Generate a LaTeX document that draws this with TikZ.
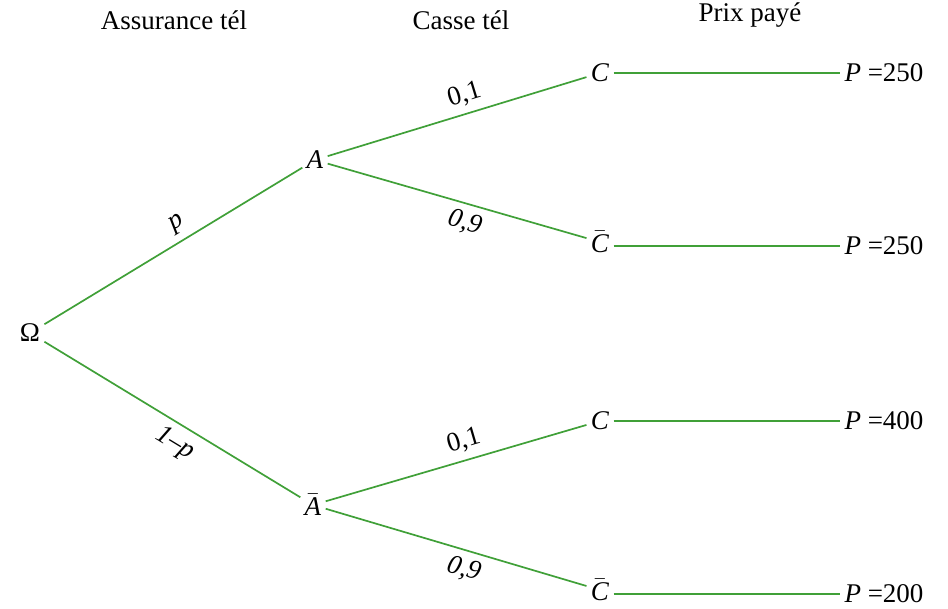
\documentclass[tikz,border=0pt]{standalone}
\usepackage{amsmath}
\usepackage{fontspec}
\setmainfont{Liberation Serif}
\definecolor{vert}{RGB}{64,160,56}

\begin{document}
\begin{tikzpicture}[x=0.5pt,y=0.5pt,
  every node/.style={font=\fontsize{13.5}{16}\selectfont,inner sep=2pt},
  branche/.style={draw=vert,line width=0.85pt},
  proba/.style={pos=0.55,sloped,inner sep=3.5pt}]
  \useasboundingbox (0,0) rectangle (948,609);
  \node (h1) at (174,589) {Assurance tél};
  \node (h2) at (461,589) {Casse tél};
  \node (h3) at (750,594) {Prix payé};

  \node (om) at (30,276) {Ω};
  \node (a) at (315,449) {\textit{A}};
  \node (ab) at (313,104) {$\bar{\text{\textit{A}}}$};
  \node (c1) at (600,536) {\textit{C}};
  \node (c2) at (600,367) {$\bar{\text{\textit{C}}}$};
  \node (c3) at (600,188) {\textit{C}};
  \node (c4) at (600,19) {$\bar{\text{\textit{C}}}$};
  \node (p1) at (884,536) {\textit{P} =250};
  \node (p2) at (884,363) {\textit{P} =250};
  \node (p3) at (884,188) {\textit{P} =400};
  \node (p4) at (884,15) {\textit{P} =200};

  \draw[branche] (om) -- node[proba,above]{\textit{p}} (a);
  \draw[branche] (om) -- node[proba,below]{\textit{1--p}} (ab);
  \draw[branche] (a) -- node[proba,above]{0,1} (c1);
  \draw[branche] (a) -- node[proba,below]{\textit{0,9}} (c2);
  \draw[branche] (ab) -- node[proba,above]{0,1} (c3);
  \draw[branche] (ab) -- node[proba,below]{\textit{0,9}} (c4);
  \draw[branche] (c1) -- (p1);
  \draw[branche] (c2.east|-p2) -- (p2);
  \draw[branche] (c3) -- (p3);
  \draw[branche] (c4.east|-p4) -- (p4);
\end{tikzpicture}
\end{document}
